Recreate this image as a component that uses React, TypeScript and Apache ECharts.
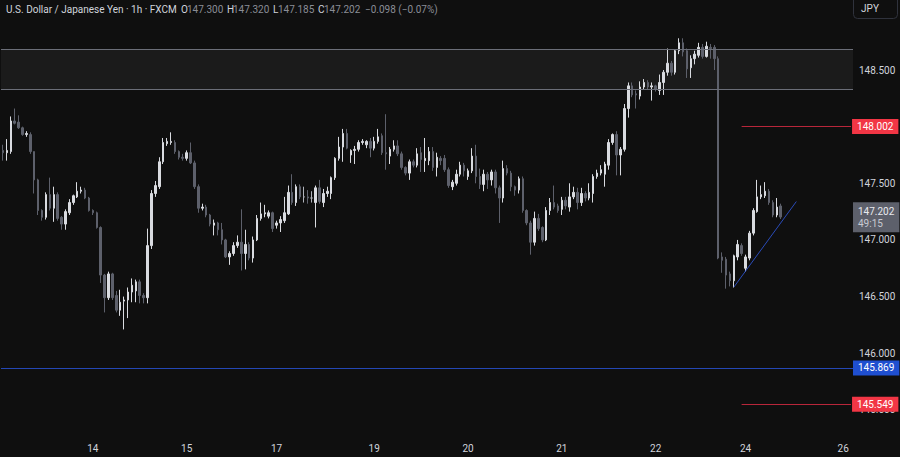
import React, { useEffect, useRef } from "react";
import * as echarts from "echarts";

// [open, high, low, close] per 1h candle
const candles: [number, number, number, number][] = [
  [147.79, 147.84, 147.70, 147.77], [147.77, 147.89, 147.70, 147.79], [147.78, 148.09, 147.76, 148.05], [148.05, 148.16, 148.02, 148.03],
  [148.04, 148.10, 147.98, 147.99], [147.99, 148.00, 147.92, 147.93], [147.93, 147.96, 147.91, 147.94], [147.93, 147.95, 147.76, 147.78],
  [147.78, 147.78, 147.41, 147.53], [147.53, 147.54, 147.22, 147.26], [147.26, 147.27, 147.17, 147.20], [147.20, 147.42, 147.18, 147.40],
  [147.40, 147.55, 147.26, 147.28], [147.28, 147.47, 147.16, 147.40], [147.40, 147.42, 147.17, 147.19], [147.20, 147.21, 147.09, 147.14],
  [147.14, 147.27, 147.09, 147.25], [147.24, 147.36, 147.22, 147.33], [147.33, 147.40, 147.31, 147.39], [147.38, 147.51, 147.37, 147.43],
  [147.43, 147.47, 147.41, 147.44], [147.44, 147.46, 147.36, 147.37], [147.37, 147.38, 147.25, 147.26], [147.26, 147.27, 147.22, 147.24],
  [147.24, 147.25, 147.10, 147.11], [147.11, 147.12, 146.62, 146.69], [146.69, 146.70, 146.36, 146.49], [146.49, 146.72, 146.47, 146.70],
  [146.70, 146.71, 146.47, 146.49], [146.51, 146.55, 146.36, 146.38], [146.38, 146.56, 146.33, 146.45], [146.46, 146.50, 146.21, 146.47],
  [146.47, 146.58, 146.31, 146.54], [146.54, 146.66, 146.45, 146.60], [146.55, 146.65, 146.45, 146.63], [146.63, 146.65, 146.44, 146.51],
  [146.51, 146.53, 146.44, 146.49], [146.49, 147.10, 146.44, 146.95], [146.95, 147.44, 146.92, 147.41], [147.41, 147.52, 147.38, 147.48],
  [147.47, 147.73, 147.45, 147.69], [147.69, 147.90, 147.67, 147.86], [147.85, 147.90, 147.83, 147.87], [147.86, 147.95, 147.84, 147.87],
  [147.86, 147.88, 147.76, 147.78], [147.78, 147.79, 147.71, 147.73], [147.73, 147.76, 147.70, 147.72], [147.72, 147.79, 147.70, 147.77],
  [147.77, 147.86, 147.67, 147.68], [147.68, 147.70, 147.45, 147.47], [147.47, 147.49, 147.24, 147.28], [147.28, 147.32, 147.26, 147.29],
  [147.29, 147.31, 147.20, 147.22], [147.22, 147.23, 147.12, 147.14], [147.13, 147.18, 147.04, 147.15], [147.15, 147.16, 147.04, 147.09],
  [147.09, 147.15, 146.96, 147.00], [147.00, 147.01, 146.84, 146.85], [146.85, 146.90, 146.78, 146.88], [146.88, 146.98, 146.86, 146.95],
  [146.95, 147.04, 146.93, 146.98], [146.98, 147.27, 146.73, 146.88], [146.88, 147.09, 146.74, 146.96], [146.96, 146.98, 146.82, 146.84],
  [146.84, 147.03, 146.80, 147.00], [147.00, 147.22, 146.99, 147.19], [147.19, 147.33, 147.17, 147.23], [147.23, 147.31, 147.20, 147.24],
  [147.21, 147.26, 147.19, 147.24], [147.24, 147.25, 147.07, 147.10], [147.13, 147.17, 147.10, 147.15], [147.15, 147.21, 147.07, 147.18],
  [147.17, 147.38, 147.15, 147.24], [147.23, 147.48, 147.22, 147.42], [147.42, 147.58, 147.31, 147.33], [147.33, 147.49, 147.30, 147.47],
  [147.47, 147.49, 147.36, 147.38], [147.38, 147.47, 147.33, 147.38], [147.38, 147.44, 147.32, 147.37], [147.37, 147.43, 147.33, 147.37],
  [147.33, 147.48, 147.11, 147.46], [147.46, 147.53, 147.32, 147.34], [147.33, 147.45, 147.29, 147.41], [147.41, 147.47, 147.38, 147.43],
  [147.41, 147.56, 147.36, 147.55], [147.55, 147.73, 147.53, 147.72], [147.72, 147.91, 147.70, 147.82], [147.82, 147.98, 147.69, 147.94],
  [147.94, 147.98, 147.80, 147.81], [147.75, 147.80, 147.68, 147.79], [147.79, 147.83, 147.67, 147.80], [147.80, 147.88, 147.78, 147.86],
  [147.86, 147.89, 147.84, 147.87], [147.84, 147.88, 147.81, 147.87], [147.87, 147.90, 147.73, 147.81], [147.81, 147.91, 147.79, 147.87],
  [147.87, 147.98, 147.85, 147.91], [147.92, 147.94, 147.75, 147.77], [147.77, 148.11, 147.62, 147.76], [147.74, 147.82, 147.67, 147.80],
  [147.80, 147.88, 147.78, 147.83], [147.83, 147.88, 147.74, 147.76], [147.76, 147.78, 147.62, 147.64], [147.64, 147.65, 147.57, 147.59],
  [147.59, 147.71, 147.53, 147.69], [147.69, 147.71, 147.64, 147.66], [147.66, 147.81, 147.64, 147.76], [147.77, 147.82, 147.60, 147.71],
  [147.70, 147.90, 147.60, 147.72], [147.70, 147.82, 147.66, 147.78], [147.78, 147.82, 147.61, 147.64], [147.64, 147.77, 147.56, 147.73],
  [147.72, 147.74, 147.66, 147.70], [147.72, 147.75, 147.60, 147.62], [147.62, 147.64, 147.46, 147.48], [147.47, 147.53, 147.44, 147.51],
  [147.50, 147.62, 147.48, 147.58], [147.58, 147.69, 147.56, 147.66], [147.66, 147.68, 147.56, 147.61], [147.56, 147.63, 147.53, 147.61],
  [147.61, 147.81, 147.59, 147.74], [147.74, 147.84, 147.50, 147.56], [147.56, 147.63, 147.45, 147.49], [147.49, 147.62, 147.43, 147.58],
  [147.58, 147.60, 147.45, 147.53], [147.53, 147.62, 147.48, 147.60], [147.60, 147.62, 147.41, 147.46], [147.46, 147.48, 147.15, 147.37],
  [147.37, 147.70, 147.33, 147.63], [147.63, 147.66, 147.57, 147.59], [147.59, 147.61, 147.43, 147.47], [147.47, 147.48, 147.39, 147.44],
  [147.44, 147.56, 147.41, 147.54], [147.54, 147.56, 147.24, 147.26], [147.26, 147.27, 147.13, 147.15], [147.15, 147.17, 146.87, 146.98],
  [146.98, 147.25, 146.95, 147.19], [147.19, 147.23, 147.08, 147.10], [147.11, 147.12, 146.98, 147.00], [147.00, 147.29, 146.99, 147.26],
  [147.26, 147.37, 147.22, 147.33], [147.33, 147.48, 147.27, 147.29], [147.30, 147.32, 147.24, 147.26], [147.27, 147.38, 147.22, 147.35],
  [147.35, 147.38, 147.27, 147.30], [147.29, 147.50, 147.25, 147.38], [147.38, 147.47, 147.36, 147.42], [147.42, 147.46, 147.27, 147.33],
  [147.33, 147.46, 147.30, 147.41], [147.41, 147.43, 147.34, 147.37], [147.37, 147.50, 147.35, 147.42], [147.41, 147.58, 147.33, 147.56],
  [147.56, 147.62, 147.54, 147.59], [147.59, 147.66, 147.57, 147.62], [147.58, 147.69, 147.47, 147.67], [147.66, 147.89, 147.62, 147.86],
  [147.86, 147.94, 147.84, 147.93], [147.93, 147.96, 147.57, 147.75], [147.75, 147.82, 147.57, 147.80], [147.80, 148.20, 147.78, 148.16],
  [148.16, 148.39, 148.08, 148.36], [148.36, 148.39, 148.26, 148.28], [148.29, 148.32, 148.16, 148.28], [148.27, 148.40, 148.24, 148.35],
  [148.35, 148.42, 148.33, 148.39], [148.39, 148.41, 148.33, 148.35], [148.35, 148.39, 148.23, 148.36], [148.36, 148.37, 148.31, 148.33],
  [148.32, 148.46, 148.28, 148.39], [148.39, 148.50, 148.28, 148.48], [148.48, 148.69, 148.45, 148.56], [148.56, 148.58, 148.45, 148.48],
  [148.48, 148.68, 148.46, 148.67], [148.67, 148.78, 148.64, 148.74], [148.74, 148.78, 148.62, 148.66], [148.67, 148.69, 148.43, 148.51],
  [148.52, 148.63, 148.43, 148.60], [148.60, 148.67, 148.55, 148.64], [148.63, 148.74, 148.61, 148.70], [148.70, 148.73, 148.60, 148.62],
  [148.62, 148.75, 148.61, 148.71], [148.70, 148.73, 148.60, 148.69], [148.70, 148.72, 148.50, 148.60], [148.60, 148.62, 146.83, 146.84],
  [146.85, 146.89, 146.71, 146.82], [146.83, 146.85, 146.57, 146.69], [146.70, 146.72, 146.59, 146.64], [146.64, 146.87, 146.58, 146.86],
  [146.85, 147.00, 146.82, 146.96], [146.95, 146.97, 146.86, 146.88], [146.75, 146.87, 146.72, 146.85], [146.84, 147.08, 146.82, 147.06],
  [147.06, 147.28, 147.04, 147.26], [147.25, 147.53, 147.24, 147.38], [147.38, 147.48, 147.36, 147.40], [147.39, 147.51, 147.37, 147.43],
  [147.43, 147.45, 147.31, 147.33], [147.33, 147.35, 147.20, 147.22], [147.22, 147.37, 147.20, 147.29], [147.300, 147.320, 147.185, 147.202],
];

const TOTAL_SLOTS = 218;
const dayLabels: [number, string][] = [
  [23, "14"], [47, "15"], [70, "17"], [95, "19"], [119, "20"], [143, "21"], [167, "22"], [190, "24"], [215, "26"],
];

const zoneTop = 148.677;
const zoneBottom = 148.332;
const redLevels = [148.002, 145.549];
const redStartSlot = 189;
const blueLevel = 145.869;
const lastPrice = 147.202;
const countdown = "49:15";
const trendFrom: [number, number] = [187, 146.583];
const trendTo: [number, number] = [203, 147.339];

const yMin = 145.331;
const yMax = 149.118;
// axis ticks hidden behind the level labels in the reference
const hiddenTicks = [148.0, 149.0];

const title = "U.S. Dollar / Japanese Yen · 1h · FXCM";
const ohlcHeader: [string, string, number, number][] = [
  ["O", "147.300", 181, 187],
  ["H", "147.320", 227, 233],
  ["L", "147.185", 273, 278],
  ["C", "147.202", 318, 324],
];
const changeText = "−0.098 (−0.07%)";

const FONT = "Roboto, 'Noto Sans', sans-serif";

export default function App() {
  const ref = useRef<HTMLDivElement>(null);
  useEffect(() => {
    if (!ref.current) return;
    const chart = echarts.init(ref.current, undefined, { renderer: "svg" });
    const categories = Array.from({ length: TOTAL_SLOTS }, (_, i) => String(i));
    const labelMap = new Map<number, string>(dayLabels);

    const redLabel = (v: number) => ({
      show: true,
      position: "end",
      formatter: v.toFixed(3),
      backgroundColor: "#f23645",
      color: "#ffffff",
      padding: [3, 5, 2, 5],
      fontSize: 10,
      fontFamily: FONT,
      distance: 1,
    });

    const markLineData: any[] = [
      { yAxis: zoneTop, lineStyle: { color: "#6b6e78", width: 1, type: "solid" }, label: { show: false } },
      { yAxis: zoneBottom, lineStyle: { color: "#6b6e78", width: 1, type: "solid" }, label: { show: false } },
      {
        yAxis: blueLevel,
        lineStyle: { color: "#2447b5", width: 1, type: "solid" },
        label: {
          show: true, position: "end", formatter: blueLevel.toFixed(3), backgroundColor: "#1f4fd0",
          color: "#ffffff", padding: [3, 5, 2, 5], fontSize: 10, fontFamily: FONT, distance: 0,
        },
      },
      ...redLevels.map((v) => [
        { xAxis: redStartSlot, yAxis: v, lineStyle: { color: "#b8263a", width: 1, type: "solid" }, label: redLabel(v) },
        { xAxis: TOTAL_SLOTS - 1, yAxis: v, lineStyle: { color: "#b8263a", width: 1, type: "solid" }, label: redLabel(v) },
      ]),
      [
        { xAxis: trendFrom[0], yAxis: trendFrom[1], lineStyle: { color: "#2a4bb8", width: 1, type: "solid" }, label: { show: false } },
        { xAxis: trendTo[0], yAxis: trendTo[1], lineStyle: { color: "#2a4bb8", width: 1, type: "solid" }, label: { show: false } },
      ],
      {
        yAxis: lastPrice,
        lineStyle: { color: "rgba(0,0,0,0)", width: 1, type: "solid" },
        label: {
          show: true, position: "end", distance: 0,
          formatter: `{a|${lastPrice.toFixed(3)}}\n{b|${countdown}}`,
          backgroundColor: "#5d606b", padding: [3, 5, 3, 5],
          rich: {
            a: { color: "#e8e9ee", fontSize: 10, fontFamily: FONT, lineHeight: 12 },
            b: { color: "#c8cad2", fontSize: 10, fontFamily: FONT, lineHeight: 12 },
          },
        },
      },
    ];

    const graphics: any[] = [
      { type: "text", x: 6, y: 9, style: { text: title, fill: "#d1d4dc", fontSize: 10, fontFamily: FONT, verticalAlign: "middle" } },
      ...ohlcHeader.flatMap(([k, v, kx, vx]) => [
        { type: "text", x: kx, y: 9, style: { text: k, fill: "#d1d4dc", fontSize: 10, fontFamily: FONT, verticalAlign: "middle" } },
        { type: "text", x: vx, y: 9, style: { text: v, fill: "#8a8d96", fontSize: 10, fontFamily: FONT, verticalAlign: "middle" } },
      ]),
      { type: "text", x: 365, y: 9, style: { text: changeText, fill: "#8a8d96", fontSize: 10, fontFamily: FONT, verticalAlign: "middle" } },
      {
        type: "rect", shape: { x: 853.5, y: -6.5, width: 44, height: 25, r: 4 },
        style: { fill: "#0f0f0f", stroke: "#2f323c", lineWidth: 1 },
      },
      { type: "text", x: 870, y: 8, style: { text: "JPY", fill: "#d1d4dc", fontSize: 10, fontFamily: FONT, align: "center", verticalAlign: "middle" } },
    ];

    chart.setOption({
      animation: false,
      backgroundColor: "#0f0f0f",
      grid: { left: 1, right: 47, top: 0, bottom: 28, containLabel: false },
      xAxis: {
        type: "category",
        data: categories,
        boundaryGap: true,
        axisLine: { show: false },
        axisTick: { show: false },
        splitLine: { show: false },
        axisLabel: {
          interval: (idx: number) => labelMap.has(idx),
          formatter: (_v: string, idx: number) => labelMap.get(idx) ?? "",
          color: "#d1d4dc",
          fontSize: 10,
          fontFamily: FONT,
          margin: 14,
        },
      },
      yAxis: {
        type: "value",
        position: "right",
        min: yMin,
        max: yMax,
        splitNumber: 8,
        axisLine: { show: false },
        axisTick: { show: false },
        splitLine: { show: false },
        axisLabel: {
          showMinLabel: false,
          showMaxLabel: false,
          formatter: (v: number) => (hiddenTicks.some((h) => Math.abs(h - v) < 1e-6) ? "" : v.toFixed(3)),
          color: "#d1d4dc",
          fontSize: 10,
          fontFamily: FONT,
          margin: 6,
        },
      },
      series: [
        {
          type: "candlestick",
          data: candles.map(([o, h, l, c]) => [o, c, l, h]),
          barWidth: 2,
          itemStyle: {
            color: "#d9dbe0",
            color0: "#5d606b",
            borderColor: "#d9dbe0",
            borderColor0: "#5d606b",
            borderColorDoji: "#b0b3bb",
            borderWidth: 1,
          },
          markArea: {
            silent: true,
            itemStyle: { color: "rgba(255,255,255,0.05)" },
            data: [[{ yAxis: zoneTop }, { yAxis: zoneBottom }]],
          },
          markLine: {
            silent: true,
            symbol: ["none", "none"],
            animation: false,
            data: markLineData,
          },
        },
      ],
      graphic: graphics,
    });
    return () => chart.dispose();
  }, []);
  return <div ref={ref} style={{ position: "fixed", left: 0, top: 0, width: 900, height: 457 }} />;
}
